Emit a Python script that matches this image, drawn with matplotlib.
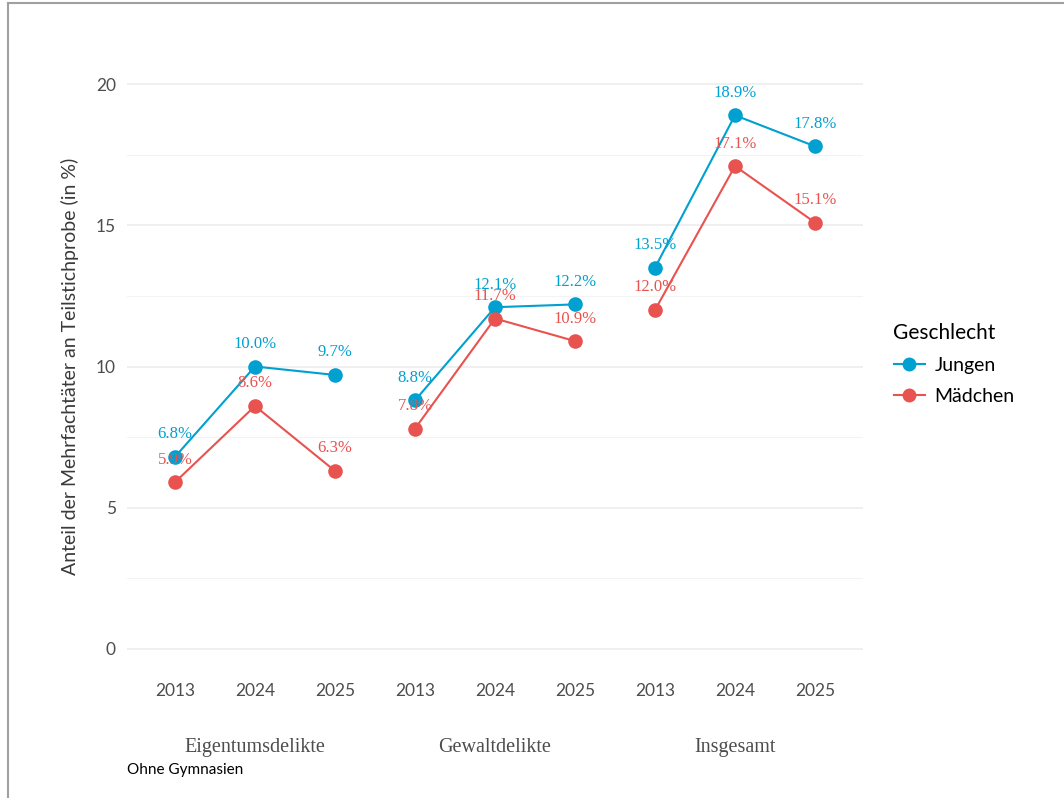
import matplotlib
matplotlib.use("Agg")
import matplotlib.pyplot as plt
from matplotlib.lines import Line2D
import numpy as np

groups = ["Eigentumsdelikte", "Gewaltdelikte", "Insgesamt"]
years = ["2013", "2024", "2025"]
jungen = [[6.8, 10.0, 9.7], [8.8, 12.1, 12.2], [13.5, 18.9, 17.8]]
maedchen = [[5.9, 8.6, 6.3], [7.8, 11.7, 10.9], [12.0, 17.1, 15.1]]

BLUE = "#00A0D0"
RED = "#E8524F"
SANS = "Lato"
SERIF = "Liberation Serif"

fig = plt.figure(figsize=(10.64, 7.98), dpi=100)
ax = fig.add_axes([127 / 1064, 1 - 677 / 798, 736 / 1064, (677 - 56) / 798])

for gi in range(len(groups)):
    x = np.arange(3) + gi * 3 + 1
    for vals, col in ((jungen[gi], BLUE), (maedchen[gi], RED)):
        ax.plot(x, vals, color=col, lw=1.5, marker="o", ms=10.5,
                markeredgewidth=0, zorder=3)
        for xi, v in zip(x, vals):
            ax.text(xi, v + 0.8, f"{v:.1f}%", color=col, ha="center",
                    va="center", fontsize=12, family=SERIF, zorder=4)

ax.set_xlim(0.4, 9.6)
ax.set_ylim(-1, 21)
ax.set_xticks(np.arange(1, 10))
ax.set_xticklabels(years * 3)
ax.set_yticks([0, 5, 10, 15, 20])
ax.set_yticks([2.5, 7.5, 12.5, 17.5], minor=True)
ax.grid(axis="y", which="major", color="#ebebeb", lw=1.1, zorder=0)
ax.grid(axis="y", which="minor", color="#f3f3f3", lw=0.8, zorder=0)
ax.grid(axis="x", visible=False)
for s in ax.spines.values():
    s.set_visible(False)
ax.tick_params(axis="both", which="both", length=0, labelsize=12.5,
               labelcolor="#4d4d4d")
ax.tick_params(axis="x", pad=4)
ax.tick_params(axis="y", pad=8)
for lab in ax.get_xticklabels() + ax.get_yticklabels():
    lab.set_family(SANS)
ax.set_ylabel("Anteil der Mehrfachtäter an Teilstichprobe (in %)",
              fontsize=14, family=SANS, color="#3a3a3a", labelpad=12)

# group labels
for gi, g in enumerate(groups):
    ax.text(gi * 3 + 2, -0.114, g, transform=ax.get_xaxis_transform(),
            ha="center", va="center", fontsize=14.5, family=SERIF,
            color="#4d4d4d")

fig.text(127 / 1064, 1 - 770 / 798, "Ohne Gymnasien", fontsize=11,
         family=SANS, color="black", ha="left", va="center")

# legend
handles = [Line2D([], [], color=BLUE, lw=1.5, marker="o", ms=10, markeredgewidth=0),
           Line2D([], [], color=RED, lw=1.5, marker="o", ms=10, markeredgewidth=0)]
leg = fig.legend(handles, ["Jungen", "Mädchen"], title="Geschlecht",
                 loc="upper left", bbox_to_anchor=(876 / 1064, 1 - 306 / 798),
                 frameon=False, prop={"family": SANS, "size": 14},
                 title_fontproperties={"family": SANS, "size": 15},
                 handlelength=1.6, handletextpad=0.5, labelspacing=0.7,
                 alignment="left")

# frame remnants of the cropped page
fig.add_artist(Line2D([8 / 1064, 8 / 1064], [0, 1 - 3 / 798],
                      transform=fig.transFigure, color="#a0a0a0", lw=1.5))
fig.add_artist(Line2D([8 / 1064, 1], [1 - 3 / 798, 1 - 3 / 798],
                      transform=fig.transFigure, color="#a0a0a0", lw=1.5))

fig.savefig("out.png", dpi=100)
